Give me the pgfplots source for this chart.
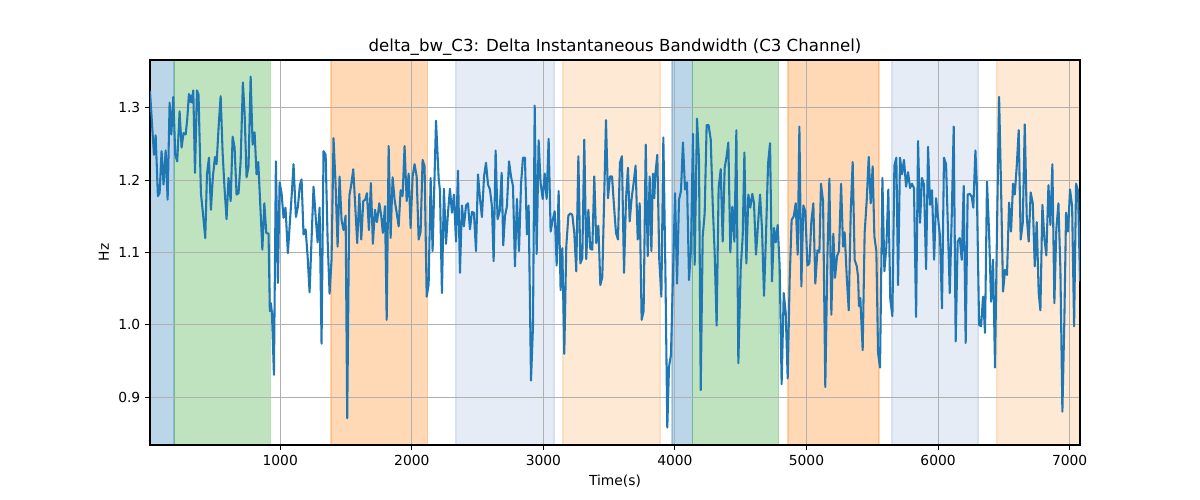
\documentclass[border=0pt]{standalone}
\usepackage{fontspec}
\setmainfont{DejaVu Sans}
\usepackage{pgfplots}
\pgfplotsset{compat=1.18}
\definecolor{cA}{RGB}{31,119,180}
\definecolor{cB}{RGB}{255,127,14}
\definecolor{cG}{RGB}{44,160,44}
\definecolor{lblue}{RGB}{229,236,246}
\definecolor{lblueedge}{RGB}{214,224,240}
\definecolor{lorange}{RGB}{254,233,213}
\definecolor{loredge}{RGB}{252,222,192}
\definecolor{gridgray}{RGB}{176,176,176}
\pgfplotstableread{
x y
10 1.323
40 1.235
53 1.262
70 1.178
83 1.182
98 1.240
113 1.194
129 1.241
144 1.173
159 1.307
172 1.263
187 1.315
202 1.235
217 1.226
235 1.295
250 1.245
265 1.265
281 1.263
293 1.284
306 1.319
316 1.308
324 1.317
331 1.307
339 1.324
352 1.210
367 1.324
379 1.318
397 1.182
412 1.155
430 1.120
443 1.208
458 1.231
473 1.159
488 1.205
504 1.232
516 1.222
532 1.275
547 1.316
562 1.238
577 1.187
592 1.146
607 1.203
623 1.171
638 1.260
653 1.245
668 1.180
683 1.182
699 1.226
716 1.335
729 1.293
744 1.204
759 1.219
775 1.343
790 1.249
805 1.266
820 1.208
833 1.225
864 1.104
879 1.168
894 1.127
911 1.126
921 1.019
929 1.030
937 1.016
952 0.931
967 1.226
982 1.058
995 1.197
1010 1.182
1025 1.148
1040 1.162
1058 1.099
1073 1.141
1089 1.185
1101 1.222
1119 1.149
1134 1.163
1149 1.193
1162 1.201
1177 1.125
1193 1.132
1208 1.095
1223 1.045
1238 1.118
1253 1.191
1269 1.150
1284 1.114
1299 1.162
1314 0.974
1329 1.240
1345 1.235
1360 1.118
1375 1.043
1390 1.090
1405 1.258
1421 1.192
1436 1.108
1451 1.205
1466 1.145
1481 1.131
1497 1.151
1509 0.871
1525 1.178
1540 1.194
1555 1.215
1570 1.164
1585 1.113
1601 1.181
1616 1.118
1631 1.171
1646 1.173
1659 1.182
1674 1.131
1689 1.196
1704 1.112
1720 1.159
1735 1.142
1753 1.168
1768 1.150
1780 1.127
1796 1.164
1809 1.007
1824 1.247
1839 1.120
1854 1.204
1869 1.173
1885 1.155
1900 1.136
1915 1.186
1930 1.178
1945 1.247
1961 1.171
1976 1.209
1991 1.134
2006 1.205
2021 1.222
2037 1.205
2052 1.118
2067 1.129
2082 1.228
2097 1.219
2113 1.039
2128 1.056
2143 1.203
2158 1.102
2184 1.282
2204 1.203
2214 1.185
2229 1.044
2244 1.188
2260 1.112
2275 1.155
2290 1.188
2305 1.155
2320 1.180
2336 1.115
2351 1.213
2366 1.072
2381 1.165
2396 1.136
2412 1.165
2427 1.168
2442 1.132
2457 1.156
2472 1.155
2488 1.102
2503 1.208
2518 1.175
2533 1.149
2549 1.205
2564 1.224
2579 1.194
2594 1.187
2609 1.164
2622 1.088
2637 1.241
2652 1.146
2668 1.157
2683 1.210
2695 1.110
2708 1.150
2723 1.164
2739 1.226
2754 1.205
2769 1.192
2784 1.081
2799 1.174
2815 1.102
2830 1.194
2845 1.231
2860 1.231
2875 1.125
2888 1.165
2906 0.923
2921 0.998
2934 1.303
2949 1.098
2964 1.255
2979 1.196
2995 1.174
3010 1.209
3025 1.174
3040 1.257
3055 1.129
3071 1.145
3086 1.157
3101 1.082
3116 1.185
3131 1.048
3144 1.106
3159 0.960
3174 1.108
3190 1.151
3205 1.154
3220 1.152
3235 1.127
3250 1.074
3266 1.233
3281 1.085
3296 1.092
3311 1.256
3326 1.091
3342 1.159
3357 1.105
3372 1.104
3387 1.205
3402 1.113
3418 1.137
3433 1.055
3448 1.066
3476 1.283
3491 1.175
3506 1.205
3522 1.205
3537 1.164
3552 1.127
3567 1.118
3582 1.224
3597 1.233
3613 1.072
3628 1.173
3643 1.217
3656 1.143
3671 1.175
3686 1.196
3701 1.220
3717 1.118
3732 1.168
3747 1.007
3762 1.019
3778 1.249
3793 1.095
3808 1.205
3821 1.102
3833 1.209
3843 1.175
3851 1.208
3866 1.235
3881 1.090
3897 1.039
3912 1.259
3927 1.081
3942 0.858
3955 0.942
3970 0.959
4001 1.182
4016 1.057
4031 1.173
4046 1.185
4061 1.252
4077 1.187
4092 1.197
4107 1.062
4122 1.104
4137 1.264
4150 1.083
4168 1.285
4183 1.228
4196 0.910
4211 1.122
4226 1.154
4241 1.276
4256 1.276
4272 1.256
4287 1.168
4302 1.099
4317 0.999
4332 1.189
4348 1.215
4363 1.115
4378 1.217
4393 1.233
4406 1.252
4421 1.100
4436 1.163
4452 1.115
4467 1.269
4482 0.947
4500 1.078
4515 1.122
4528 1.238
4543 1.085
4558 1.180
4573 1.162
4588 1.181
4601 1.168
4616 1.097
4647 1.180
4662 1.132
4677 1.040
4692 1.123
4708 1.223
4723 1.251
4738 1.060
4753 1.134
4766 1.114
4781 1.138
4796 1.081
4811 0.918
4827 1.044
4842 1.017
4857 0.926
4872 1.062
4887 1.145
4903 1.150
4918 1.168
4933 1.097
4946 1.274
4961 1.053
4976 1.165
4991 1.157
5007 1.082
5022 1.085
5037 1.143
5052 1.168
5067 1.057
5083 1.103
5098 1.100
5110 1.195
5126 1.171
5143 0.914
5159 1.094
5174 1.202
5189 1.014
5204 1.126
5217 1.065
5232 1.095
5247 1.102
5263 1.195
5278 1.108
5290 1.128
5306 1.066
5321 1.020
5336 1.155
5351 1.225
5366 1.090
5382 1.081
5392 1.067
5399 1.026
5409 1.037
5427 0.965
5442 1.127
5458 1.173
5473 1.232
5488 1.168
5503 1.219
5516 1.122
5531 1.102
5544 0.961
5559 0.941
5577 1.203
5592 1.074
5607 1.108
5622 1.187
5637 1.035
5653 1.012
5668 1.220
5683 1.231
5696 1.055
5711 1.231
5726 1.208
5741 1.228
5757 1.191
5772 1.211
5787 1.189
5802 1.195
5817 1.189
5833 1.011
5848 1.254
5863 1.141
5878 1.203
5893 1.194
5909 1.077
5924 1.246
5939 1.166
5954 1.186
5970 1.090
5985 1.175
6000 1.148
6015 1.122
6030 1.023
6045 1.231
6061 1.222
6076 1.127
6089 1.044
6104 1.150
6119 1.274
6134 0.977
6149 1.115
6165 1.120
6180 1.090
6195 1.192
6210 0.975
6225 1.180
6241 1.181
6256 1.177
6268 1.162
6284 1.241
6294 1.196
6312 1.000
6327 0.998
6342 1.039
6357 0.989
6372 1.198
6388 1.127
6403 1.032
6418 1.090
6433 0.941
6448 1.132
6464 1.315
6479 1.189
6494 1.046
6509 1.076
6524 1.069
6540 1.169
6555 1.129
6570 1.195
6583 1.180
6598 1.219
6613 1.269
6628 1.118
6644 1.141
6659 1.277
6674 1.150
6689 1.115
6704 1.183
6720 1.168
6735 1.081
6750 1.142
6765 1.044
6778 1.020
6793 1.166
6808 1.120
6823 1.096
6839 1.193
6854 1.138
6869 1.222
6884 1.030
6899 1.132
6915 1.168
6930 1.076
6945 0.880
6960 1.007
6973 1.155
6988 1.129
7003 1.187
7019 1.164
7034 0.998
7049 1.195
7064 1.185
7079 1.060
}\datatable
\begin{document}
\begin{tikzpicture}
\begin{axis}[
  set layers,
  at={(0,0)}, anchor=south west,
  scale only axis, width=9.3in, height=3.85in,
  xmin=10, xmax=7079, ymin=0.834, ymax=1.366,
  xtick={1000,2000,3000,4000,5000,6000,7000},
  ytick={0.9,1.0,1.1,1.2,1.3},
  /pgf/number format/assume math mode=true,
  xticklabel style={/pgf/number format/1000 sep={}},
  yticklabel style={/pgf/number format/.cd, fixed, fixed zerofill, precision=1},
  grid=major,
  major grid style={color=gridgray, line width=0.8pt},
  tick align=outside, major tick length=3.5pt,
  tick style={black, line width=0.8pt},
  axis line style={line width=0.8pt},
  xtick pos=bottom, ytick pos=left,
  tick label style={font=\fontsize{10}{12}\selectfont},
  label style={font=\fontsize{10}{12}\selectfont},
  title style={font=\fontsize{12}{14}\selectfont, inner sep=0pt, yshift=-3pt},
  title={delta\_bw\_C3: Delta Instantaneous Bandwidth (C3 Channel)},
  xlabel={Time(s)}, ylabel={Hz},
]
\addplot[on layer=axis background, fill=cA, fill opacity=0.3, draw=cA, draw opacity=0.3, line width=1pt] coordinates {(10,0.834)(192,0.834)(192,1.366)(10,1.366)(10,0.834)};
\addplot[on layer=axis background, fill=cG, fill opacity=0.3, draw=cG, draw opacity=0.3, line width=1pt] coordinates {(194,0.834)(924,0.834)(924,1.366)(194,1.366)(194,0.834)};
\addplot[on layer=axis background, fill=cB, fill opacity=0.3, draw=cB, draw opacity=0.3, line width=1pt] coordinates {(1385,0.834)(2120,0.834)(2120,1.366)(1385,1.366)(1385,0.834)};
\addplot[on layer=axis background, fill=lblue, draw=lblueedge, line width=1pt] coordinates {(2336,0.834)(3081,0.834)(3081,1.366)(2336,1.366)(2336,0.834)};
\addplot[on layer=axis background, fill=lorange, draw=loredge, line width=1pt] coordinates {(3149,0.834)(3887,0.834)(3887,1.366)(3149,1.366)(3149,0.834)};
\addplot[on layer=axis background, fill=cA, fill opacity=0.3, draw=cA, draw opacity=0.3, line width=1pt] coordinates {(3978,0.834)(4134,0.834)(4134,1.366)(3978,1.366)(3978,0.834)};
\addplot[on layer=axis background, fill=cG, fill opacity=0.3, draw=cG, draw opacity=0.3, line width=1pt] coordinates {(4134,0.834)(4789,0.834)(4789,1.366)(4134,1.366)(4134,0.834)};
\addplot[on layer=axis background, fill=cB, fill opacity=0.3, draw=cB, draw opacity=0.3, line width=1pt] coordinates {(4859,0.834)(5550,0.834)(5550,1.366)(4859,1.366)(4859,0.834)};
\addplot[on layer=axis background, fill=lblue, draw=lblueedge, line width=1pt] coordinates {(5650,0.834)(6303,0.834)(6303,1.366)(5650,1.366)(5650,0.834)};
\addplot[on layer=axis background, fill=lorange, draw=loredge, line width=1pt] coordinates {(6449,0.834)(7079,0.834)(7079,1.366)(6449,1.366)(6449,0.834)};
\addplot[color=cA, line width=1.5pt, line join=round, mark=none] table[x=x, y=y] {\datatable};
\end{axis}
\path (-1.5in,-0.55in) rectangle (10.5in,4.45in);
\end{tikzpicture}
\end{document}
